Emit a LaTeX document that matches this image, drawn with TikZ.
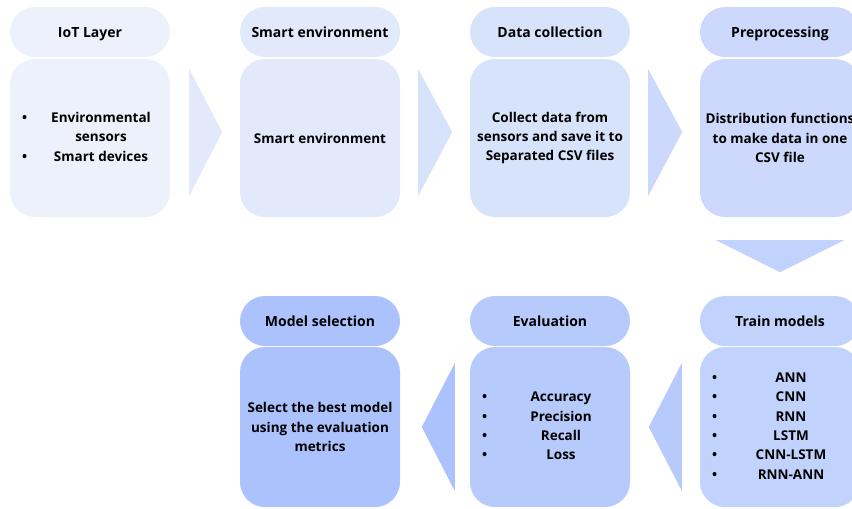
\documentclass[tikz,border=0pt]{standalone}
\usepackage{fontspec}
\setmainfont{Open Sans}
\usepackage{array}
\usetikzlibrary{calc}

\definecolor{stepA}{HTML}{EDF1FC}
\definecolor{stepB}{HTML}{E2E9FB}
\definecolor{stepC}{HTML}{D7E2FB}
\definecolor{stepD}{HTML}{CCD9FC}
\definecolor{stepE}{HTML}{C1D2FC}
\definecolor{stepF}{HTML}{B7CAFC}
\definecolor{stepG}{HTML}{ACC2FC}

\begin{document}
\begin{tikzpicture}[x=1pt, y=-1pt,
  head/.style={rounded corners=25pt, minimum width=160pt, minimum height=50pt,
    inner sep=0pt, text height=11pt, text depth=1pt,
    font=\fontsize{14}{19.4}\selectfont\bfseries},
  body/.style={rounded corners=25pt, minimum width=160pt, minimum height=158pt,
    inner sep=0pt, align=center, font=\fontsize{13.5}{19.4}\selectfont\bfseries},
  blist/.style={anchor=west, inner sep=0pt, font=\fontsize{13.5}{19.4}\selectfont\bfseries}]
  % Fix the page size
  \useasboundingbox (0,0) rectangle (852,509);

  % Top row
  \node[head, fill=stepA] (h1) at (90,32) {IoT Layer};
  \node[body, fill=stepA] (b1) at (90,138) {};
  \node[blist] (l1) at ([xshift=12pt]b1.west) {%
    \begin{tabular}{@{}p{8pt}@{\hspace{6pt}}>{\centering\arraybackslash}p{130pt}@{}}
      \textbullet & Environmental\\
                  & sensors\\
      \textbullet & Smart devices
    \end{tabular}};

  \node[head, fill=stepB] (h2) at (320,32) {Smart environment};
  \node[body, fill=stepB] (b2) at (320,138) {Smart environment};

  \node[head, fill=stepC] (h3) at (550,32) {Data collection};
  \node[body, fill=stepC] (b3) at (550,138) {Collect data from\\sensors and save it to\\Separated CSV files};

  \node[head, fill=stepD] (h4) at (780,32) {Preprocessing};
  \node[body, fill=stepD] (b4) at (780,138) {Distribution functions\\to make data in one\\CSV file};

  % Bottom row
  \node[head, fill=stepE] (h5) at (780,321) {Train models};
  \node[body, fill=stepE, minimum height=160pt] (b5) at (780,427) {};
  \node[blist] (l5) at ([xshift=12pt]b5.west) {%
    \begin{tabular}{@{}p{8pt}@{\hspace{6pt}}>{\centering\arraybackslash}p{130pt}@{}}
      \textbullet & ANN\\
      \textbullet & CNN\\
      \textbullet & RNN\\
      \textbullet & LSTM\\
      \textbullet & CNN-LSTM\\
      \textbullet & RNN-ANN
    \end{tabular}};

  \node[head, fill=stepF] (h6) at (550,321) {Evaluation};
  \node[body, fill=stepF, minimum height=160pt] (b6) at (550,427) {};
  \node[blist] (l6) at ([xshift=12pt]b6.west) {%
    \begin{tabular}{@{}p{8pt}@{\hspace{6pt}}>{\centering\arraybackslash}p{130pt}@{}}
      \textbullet & Accuracy\\
      \textbullet & Precision\\
      \textbullet & Recall\\
      \textbullet & Loss
    \end{tabular}};

  \node[head, fill=stepG] (h7) at (320,321) {Model selection};
  \node[body, fill=stepG, minimum height=160pt] (b7) at (320,427) {Select the best model\\using the evaluation\\metrics};

  % Chevrons between the steps
  \fill[stepB] ($(b1.east)+(19,-69)$) -- ($(b1.east)+(52,-6)$) -- ($(b1.east)+(19,58)$) -- cycle;
  \fill[stepC] ($(b2.east)+(18,-69)$) -- ($(b2.east)+(52,-6)$) -- ($(b2.east)+(18,58)$) -- cycle;
  \fill[stepD] ($(b3.east)+(18,-69)$) -- ($(b3.east)+(52,-6)$) -- ($(b3.east)+(18,58)$) -- cycle;
  \fill[stepE] ($(b4.south)+(-64,23)$) -- ($(b4.south)+(64,23)$) -- ($(b4.south)+(0,55)$) -- cycle;
  \fill[stepF] ($(b5.west)+(-18,-64)$) -- ($(b5.west)+(-18,64)$) -- ($(b5.west)+(-51,0)$) -- cycle;
  \fill[stepG] ($(b6.west)+(-15,-64)$) -- ($(b6.west)+(-15,64)$) -- ($(b6.west)+(-48,0)$) -- cycle;
\end{tikzpicture}
\end{document}
